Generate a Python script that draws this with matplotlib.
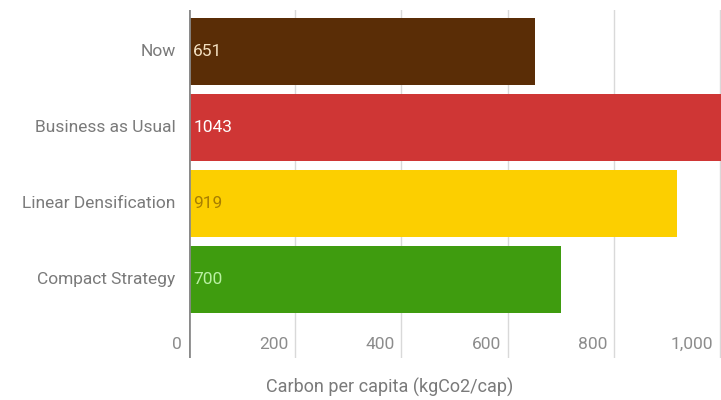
import matplotlib
matplotlib.use('Agg')
import matplotlib.pyplot as plt
from matplotlib.transforms import blended_transform_factory

categories = ['Now', 'Business as Usual', 'Linear Densification', 'Compact Strategy']
values = [651, 1043, 919, 700]
bar_colors = ['#5a2d06', '#cf3635', '#fccf00', '#3f9c0f']
value_colors = ['#f3dfc0', '#ffffff', '#a87f00', '#b9f0a2']
xticks = [0, 200, 400, 600, 800, 1000]
xtick_labels = ['0', '200', '400', '600', '800', '1,000']
xlabel = 'Carbon per capita (kgCo2/cap)'

plt.rcParams['font.family'] = ['Roboto', 'DejaVu Sans']

W, H = 721, 400
fig = plt.figure(figsize=(W / 100, H / 100), dpi=100)
# axes: x 0 -> 189px, 1000 -> 720px ; y from 10px to 358px (clipped at the right)
px_per_unit = (720 - 189) / 1000
xmax = 1100
ax = fig.add_axes([189 / W, (H - 358) / H, xmax * px_per_unit / W, 348 / H])

ys = list(range(len(categories)))
ax.barh(ys, values, height=0.88, color=bar_colors, zorder=2)
ax.set_xlim(0, xmax)
ax.set_ylim(4.03, -0.546)

for x in xticks[1:]:
    ax.axvline(x, color='#d9d9d9', lw=1, zorder=1)
ax.axvline(0, color='#8a8a8a', lw=2, zorder=3)

for s in ax.spines.values():
    s.set_visible(False)
ax.set_xticks([])
ax.set_yticks([])

tick_tr = blended_transform_factory(ax.transData, ax.transAxes)
for x, lab in zip(xticks, xtick_labels):
    ax.text(x - 13, 0.04, lab, transform=tick_tr, ha='right', va='center',
            fontsize=12.5, color='#8c8c8c')

for y, cat, v, vc in zip(ys, categories, values, value_colors):
    ax.text(-25, y, cat, ha='right', va='center',
            fontsize=12.5, color='#7a7a7a', clip_on=False)
    ax.text(8, y, str(v), ha='left', va='center', fontsize=12.5, color=vc, zorder=4)

fig.text(390 / W, 1 - 387 / H, xlabel, ha='center', va='center',
         fontsize=13, color='#7a7a7a')

fig.savefig('out.png', dpi=100)
